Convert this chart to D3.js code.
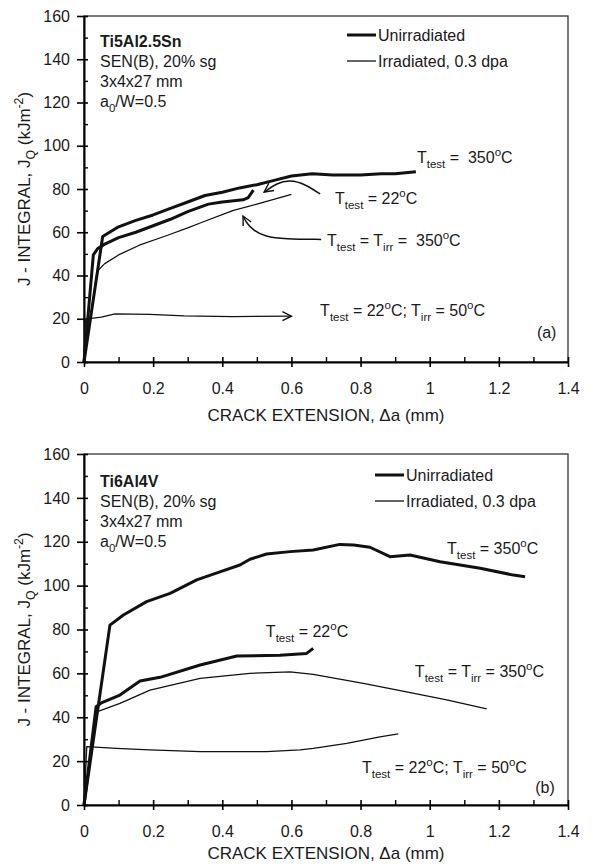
<!DOCTYPE html>
<html>
<head>
<meta charset="utf-8">
<script src="https://cdn.jsdelivr.net/npm/d3@7"></script>
<style>
  body { margin: 0; background: #fff; }
  text { font-family: Arial, "Liberation Sans", Helvetica, sans-serif; fill: #1a1a1a; }
</style>
</head>
<body>
<script>
const width = 593;
const height = 865;

// axis ticks
const xTicks = [0, 0.2, 0.4, 0.6, 0.8, 1, 1.2, 1.4];
const xTickLabels = ["0", "0.2", "0.4", "0.6", "0.8", "1", "1.2", "1.4"];
const xMinor = [0.1, 0.3, 0.5, 0.7, 0.9, 1.1, 1.3];
const yTicks = [0, 20, 40, 60, 80, 100, 120, 140, 160];
const yMinor = [10, 30, 50, 70, 90, 110, 130, 150];

// (a) Ti5Al2.5Sn  [crack extension mm, J kJ/m2]
const aUnirr350 = [[0,0],[0.054,58],[0.1,62.5],[0.15,65.5],[0.2,68],[0.25,71],[0.3,74],[0.35,77],[0.4,78.5],[0.45,80.5],[0.5,82],[0.55,84],[0.6,86],[0.66,87],[0.72,86.5],[0.8,86.5],[0.86,87],[0.9,87],[0.96,88]];
const aUnirr22 = [[0,0],[0.027,49.5],[0.04,52.5],[0.06,54.5],[0.1,57.5],[0.15,60],[0.2,63],[0.25,66],[0.3,69.5],[0.36,73],[0.4,74],[0.46,75],[0.475,76],[0.49,79.5]];
const aIrr350 = [[0,0],[0.038,42],[0.06,45.5],[0.1,49.5],[0.16,54],[0.24,58.5],[0.3,62],[0.34,64.5],[0.43,70],[0.5,73],[0.6,77.5]];
const aIrr22 = [[0,0],[0.004,19.8],[0.05,20.8],[0.09,22.3],[0.19,22],[0.29,21.3],[0.43,21],[0.6,21.2]];
// pointer arrows in (a)
const aArrow22 = [[0.683,77.7],[0.639,82.3],[0.596,84.2],[0.558,82.8],[0.521,78.6]];
const aArrowIrr = [[0.686,56.7],[0.581,56.9],[0.524,57.9],[0.489,61],[0.471,64.1],[0.46,67.5]];

// (b) Ti6Al4V
const bUnirr350 = [[0,0],[0.075,82],[0.114,86.6],[0.181,92.7],[0.249,96.5],[0.326,102.6],[0.393,106.3],[0.451,109.4],[0.48,112],[0.528,114.4],[0.596,115.5],[0.663,116.2],[0.74,118.8],[0.78,118.5],[0.827,117.5],[0.885,113.2],[0.943,114],[1.03,110.9],[1.146,107.9],[1.242,104.8],[1.276,104]];
const bUnirr22 = [[0,0],[0.035,44.8],[0.05,46.5],[0.104,50.1],[0.162,56.5],[0.22,58.2],[0.336,63.8],[0.442,67.9],[0.567,68.3],[0.644,69.1],[0.663,71.4]];
const bIrr350 = [[0,0],[0.037,42.5],[0.104,46.3],[0.191,52.4],[0.336,57.7],[0.48,60],[0.596,60.7],[0.663,59.5],[0.808,55.4],[0.933,51.6],[1.049,47.9],[1.165,43.8]];
const bIrr22 = [[0,0],[0.008,26.6],[0.094,25.8],[0.19,25.1],[0.336,24.3],[0.528,24.3],[0.625,25.1],[0.663,25.8],[0.76,28.1],[0.856,31.1],[0.909,32.4]];

const svg = d3.select("body")
    .append("svg")
    .attr("width", width)
    .attr("height", height);

svg.append("defs").append("marker")
    .attr("id", "head")
    .attr("viewBox", "-10 -6 12 12")
    .attr("refX", 0).attr("refY", 0)
    .attr("markerWidth", 12).attr("markerHeight", 12)
    .attr("markerUnits", "userSpaceOnUse")
    .attr("orient", "auto")
    .append("path")
    .attr("d", "M-9,-4.5 L0,0 L-9,4.5")
    .attr("fill", "none")
    .attr("stroke", "#111")
    .attr("stroke-width", 1.4);

// text with sub/superscript pieces
function richText(g, x, y, parts, size, anchor) {
    const t = g.append("text").attr("x", x).attr("y", y)
        .attr("font-size", size).attr("text-anchor", anchor || "start");
    let shift = 0;
    parts.forEach(p => {
        const kind = p[1] || "n";
        const want = kind === "sub" ? size * 0.3 : kind === "sup" ? -size * 0.42 : 0;
        t.append("tspan")
            .attr("dy", want - shift)
            .attr("font-size", kind === "n" ? size : size * 0.72)
            .text(p[0]);
        shift = want;
    });
    return t;
}

function panel(cfg) {
    const x = d3.scaleLinear().domain([0, 1.4]).range([84, 568]);
    const y = d3.scaleLinear().domain([0, 160]).range([cfg.bottom, cfg.top]);
    const g = svg.append("g");

    g.append("rect")
        .attr("x", 84).attr("y", cfg.top)
        .attr("width", 484).attr("height", cfg.bottom - cfg.top)
        .attr("fill", "none").attr("stroke", "#333").attr("stroke-width", 1.3);

    // x axis
    const xa = g.append("g")
        .attr("transform", `translate(0,${cfg.bottom})`)
        .call(d3.axisBottom(x).tickValues(xTicks)
            .tickFormat((d, i) => xTickLabels[i]).tickSize(5).tickSizeOuter(0));
    xa.selectAll(".tick line").attr("y1", -5).attr("stroke-width", 1.6);
    xa.selectAll(".tick text").attr("y", 31.5).attr("dy", null).attr("font-size", 16).attr("fill", "#1a1a1a");
    xa.select(".domain").attr("stroke-width", 2);
    g.append("g")
        .attr("transform", `translate(0,${cfg.bottom})`)
        .call(d3.axisBottom(x).tickValues(xMinor).tickFormat("").tickSize(-5).tickSizeOuter(0))
        .call(s => s.select(".domain").remove())
        .selectAll("line").attr("stroke-width", 1.4);

    // y axis
    const ya = g.append("g")
        .attr("transform", "translate(84,0)")
        .call(d3.axisLeft(y).tickValues(yTicks).tickSize(7).tickSizeOuter(0));
    ya.selectAll(".tick line").attr("x1", 4).attr("stroke-width", 1.6);
    ya.selectAll(".tick text").attr("x", -14).attr("font-size", 16).attr("fill", "#1a1a1a");
    ya.select(".domain").attr("stroke-width", 2);
    g.append("g")
        .attr("transform", "translate(84,0)")
        .call(d3.axisLeft(y).tickValues(yMinor).tickFormat("").tickSize(-4).tickSizeOuter(0))
        .call(s => s.select(".domain").remove())
        .selectAll("line").attr("stroke-width", 1.4);

    // axis titles
    richText(g, 326, cfg.bottom + cfg.titleGap, [["CRACK EXTENSION, \u0394a (mm)"]], 17, "middle");
    richText(g, 0, 0, [["J - INTEGRAL, J"], ["Q", "sub"], [" (kJm"], ["-2", "sup"], [")"]], 17, "middle")
        .attr("transform", `translate(30,${(cfg.top + cfg.bottom) / 2}) rotate(-90)`);

    const line = d3.line().x(d => x(d[0])).y(d => y(d[1]));
    cfg.series.forEach(s => {
        const p = g.append("path")
            .attr("d", line(s.values))
            .attr("fill", "none")
            .attr("stroke", "#111")
            .attr("stroke-width", s.thick ? 3 : 1.3)
            .attr("stroke-linejoin", "round");
        if (s.arrow) p.attr("marker-end", "url(#head)");
    });

    const curve = d3.line().x(d => x(d[0])).y(d => y(d[1])).curve(d3.curveBasis);
    (cfg.pointers || []).forEach(a => {
        g.append("path")
            .attr("d", curve(a))
            .attr("fill", "none")
            .attr("stroke", "#111")
            .attr("stroke-width", 1.5)
            .attr("marker-end", "url(#head)");
    });

    // specimen info
    const info = g.append("g").attr("transform", `translate(100,${cfg.top})`);
    info.append("text").attr("y", cfg.infoY).attr("font-size", 16).attr("font-weight", "bold").text(cfg.alloy);
    richText(info, 0, cfg.infoY + 20, [["SEN(B), 20% sg"]], 16).attr("fill", "#333");
    richText(info, 0, cfg.infoY + 40, [["3x4x27 mm"]], 16).attr("fill", "#333");
    richText(info, 0, cfg.infoY + 60, [["a"], ["0", "sub"], ["/W=0.5"]], 16).attr("fill", "#333");

    // legend
    const lg = g.append("g").attr("transform", `translate(${cfg.legendX},${cfg.top + cfg.legendY})`);
    [["Unirradiated", 3], ["Irradiated, 0.3 dpa", 1.3]].forEach((l, i) => {
        lg.append("line").attr("x1", 0).attr("x2", 29).attr("y1", i * 26).attr("y2", i * 26)
            .attr("stroke", "#111").attr("stroke-width", l[1]);
        lg.append("text").attr("x", 31).attr("y", i * 26).attr("dy", "0.35em")
            .attr("font-size", 16).text(l[0]);
    });

    cfg.labels.forEach(l => richText(g, x(l.at[0]), y(l.at[1]), l.parts, 16));
}

const t350 = [["T"], ["test", "sub"], [" =\u00a0 350"], ["o", "sup"], ["C"]];
const t22 = [["T"], ["test", "sub"], [" = 22"], ["o", "sup"], ["C"]];
const tIrr = [["T"], ["test", "sub"], [" = T"], ["irr", "sub"], [" =\u00a0 350"], ["o", "sup"], ["C"]];
const tLow = [["T"], ["test", "sub"], [" = 22"], ["o", "sup"], ["C; T"], ["irr", "sub"], [" = 50"], ["o", "sup"], ["C"]];

panel({
    top: 16, bottom: 362, titleGap: 59,
    alloy: "Ti5Al2.5Sn", infoY: 31,
    legendX: 347, legendY: 19,
    series: [
        { values: aUnirr350, thick: true },
        { values: aUnirr22, thick: true },
        { values: aIrr350 },
        { values: aIrr22, arrow: true }
    ],
    pointers: [aArrow22, aArrowIrr],
    labels: [
        { at: [0.963, 92], parts: t350 },
        { at: [0.726, 73], parts: t22 },
        { at: [0.703, 53.6], parts: tIrr },
        { at: [0.683, 21.3], parts: tLow },
        { at: [1.31, 11], parts: [["(a)"]] }
    ]
});

panel({
    top: 454, bottom: 805, titleGap: 54,
    alloy: "Ti6Al4V", infoY: 33,
    legendX: 375, legendY: 21,
    series: [
        { values: bUnirr350, thick: true },
        { values: bUnirr22, thick: true },
        { values: bIrr350 },
        { values: bIrr22 }
    ],
    labels: [
        { at: [1.05, 114.4], parts: [["T"], ["test", "sub"], [" = 350"], ["o", "sup"], ["C"]] },
        { at: [0.526, 76.6], parts: t22 },
        { at: [0.957, 58.3], parts: [["T"], ["test", "sub"], [" = T"], ["irr", "sub"], [" = 350"], ["o", "sup"], ["C"]] },
        { at: [0.804, 14.6], parts: tLow },
        { at: [1.305, 5.5], parts: [["(b)"]] }
    ]
});
</script>
</body>
</html>
